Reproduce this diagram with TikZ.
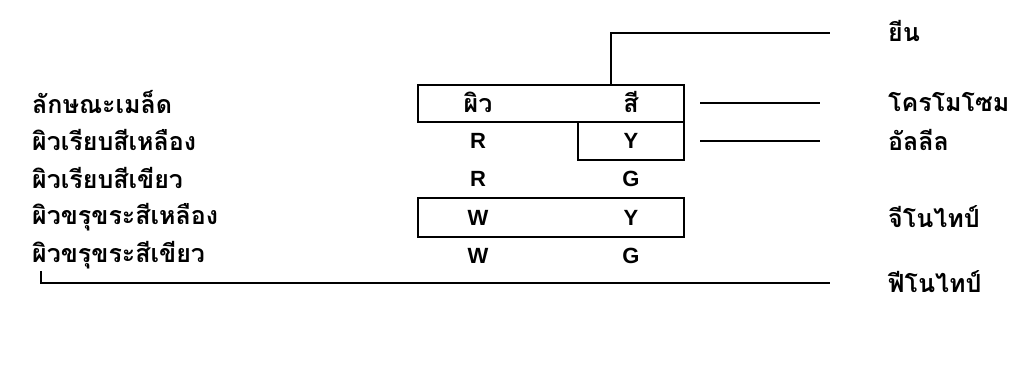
\documentclass[tikz,border=0pt]{standalone}
\usepackage{fontspec}
\setmainfont{Liberation Sans}
\newfontfamily\thaifont[Script=Thai]{Loma}
\begin{document}
\begin{tikzpicture}[x=1pt,y=-1pt,
  lab/.style={font=\thaifont\bfseries\fontsize{25}{28}\selectfont, inner sep=0pt, anchor=west},
  let/.style={font=\bfseries\fontsize{22}{24}\selectfont, inner sep=0pt},
  boxst/.style={draw, line width=1.8pt, inner sep=0pt},
  ln/.style={line width=1.8pt}]
\useasboundingbox (0,0) rectangle (1029,371);
% left labels
\node[lab] (l1) at (32,102) {ลักษณะเมล็ด};
\node[lab] (l2) at (32,140) {ผิวเรียบสีเหลือง};
\node[lab] (l3) at (32,178) {ผิวเรียบสีเขียว};
\node[lab] (l4) at (32,217) {ผิวขรุขระสีเหลือง};
\node[lab] (l5) at (32,255) {ผิวขรุขระสีเขียว};
% boxes
\node[boxst, minimum width=266pt, minimum height=37pt] (b1) at (551,103.5) {};
\node[boxst, minimum width=106pt, minimum height=38pt] (b2) at (631,141) {};
\node[boxst, minimum width=266pt, minimum height=39pt] (b3) at (551,217.5) {};
% column entries
\node[lab, anchor=center] (c11) at (478,102) {ผิว};
\node[lab, anchor=center] (c12) at (631,102) {สี};
\node[let] (c21) at (478,141) {R};
\node[let] (c22) at (631,141) {Y};
\node[let] (c31) at (478,179) {R};
\node[let] (c32) at (631,179) {G};
\node[let] (c41) at (478,218) {W};
\node[let] (c42) at (631,218) {Y};
\node[let] (c51) at (478,256) {W};
\node[let] (c52) at (631,256) {G};
% right labels
\node[lab] (r1) at (888,31) {ยีน};
\node[lab] (r2) at (888,102) {โครโมโซม};
\node[lab] (r3) at (888,140) {อัลลีล};
\node[lab] (r4) at (888,217) {จีโนไทป์};
\node[lab] (r5) at (888,282) {ฟีโนไทป์};
% connectors
\coordinate (gs) at (611,85);
\coordinate (ge) at (830,33);
\draw[ln] (gs) |- (ge);
\coordinate (cs) at (700,103);
\coordinate (ce) at (820,103);
\draw[ln] (cs) -- (ce);
\coordinate (as) at (700,141);
\coordinate (ae) at (820,141);
\draw[ln] (as) -- (ae);
\coordinate (ps) at (41,271);
\coordinate (pe) at (830,283);
\draw[ln] (ps) |- (pe);
\end{tikzpicture}
\end{document}
